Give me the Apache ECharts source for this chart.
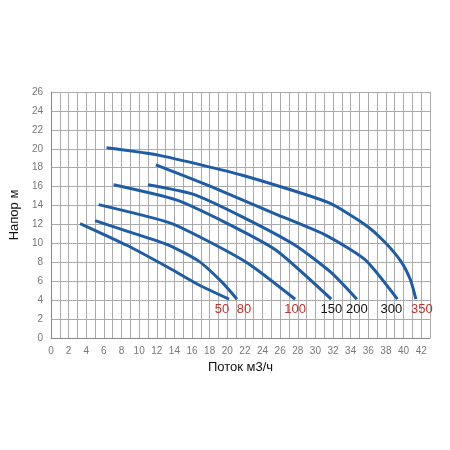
<!DOCTYPE html>
<html><head><meta charset="utf-8">
<script src="https://cdn.jsdelivr.net/npm/echarts@6/dist/echarts.min.js"></script>
<style>body{margin:0;background:#fff}#c{width:450px;height:450px}</style>
</head><body><div id="c"></div>
<script>
// кривые насосов: [поток, напор]
const c50 = [[3.3,12.1],[8.6,9.8],[13.4,7.4],[16.8,5.6],[20.2,4.1]];
const c80 = [[5.0,12.4],[8.6,11.3],[13.4,9.8],[16.8,8.1],[19.4,5.9],[21.1,4.1]];
const c100 = [[5.4,14.1],[13.4,12.2],[17.9,10.2],[22.5,7.8],[27.7,4.1]];
const c150 = [[7.1,16.2],[14.2,14.6],[19.8,12.2],[25.5,9.3],[31.8,4.1]];
const c200 = [[11.0,16.2],[16.1,15.2],[21.7,12.8],[27.7,9.8],[31.8,6.9],[34.7,4.1]];
const c300 = [[11.9,18.3],[17.9,16.1],[25.5,13.1],[31.1,10.9],[35.6,8.3],[39.3,4.1]];
const c350 = [[6.3,20.1],[12.3,19.3],[21.7,17.2],[31.5,14.3],[35.6,12.0],[37.8,10.2],[39.7,8.1],[40.8,6.1],[41.4,4.1]];
const names = ['50','80','100','150','200','300','350'];
const curves = [c50,c80,c100,c150,c200,c300,c350];
const labelColors = ['#c0302e','#c0302e','#c0302e','#111','#111','#111','#c0302e'];
const labelShift = [-7, 7, 0, 0, 0, -6, 6];

const chart = echarts.init(document.getElementById('c'));

function mkSeries(data, i) {
  return {
    name: names[i],
    type: 'line',
    smooth: 0.2,
    symbol: 'none',
    lineStyle: { color: '#1f5ca6', width: 3 },
    data: data,
    markPoint: {
      symbol: 'circle', symbolSize: 0,
      data: [{ coord: data[data.length - 1] }],
      label: { show: true, formatter: names[i], position: 'bottom', distance: 4,
        offset: [labelShift[i], 0],
        color: labelColors[i], fontSize: 13, fontFamily: 'Arial' }
    }
  };
}

chart.setOption({
  animation: false,
  backgroundColor: '#fff',
  grid: { left: 48, right: 20, top: 92, bottom: 112 },
  xAxis: {
    type: 'value', min: 0, max: 43, interval: 1,
    name: 'Поток м3/ч', nameLocation: 'middle', nameGap: 20,
    nameTextStyle: { fontSize: 13, color: '#111', fontFamily: 'Arial' },
    axisLine: { show: true, lineStyle: { color: '#888' } },
    axisTick: { show: false },
    splitLine: { show: true, interval: (idx, v) => v % 2 === 0 || v === 43, lineStyle: { color: '#aaa' } },
    axisLabel: { color: '#777', fontSize: 10, formatter: v => (v % 2 === 0 && v <= 42) ? String(v) : '' }
  },
  yAxis: {
    type: 'value', min: 0, max: 26, interval: 2,
    name: 'Напор м', nameLocation: 'middle', nameGap: 24,
    nameTextStyle: { fontSize: 13, color: '#111', fontFamily: 'Arial' },
    axisLine: { show: true, lineStyle: { color: '#888' } },
    axisTick: { show: false },
    splitLine: { lineStyle: { color: '#aaa' } },
    axisLabel: { color: '#777', fontSize: 10 }
  },
  series: curves.map(mkSeries)
});
</script>
</body></html>
